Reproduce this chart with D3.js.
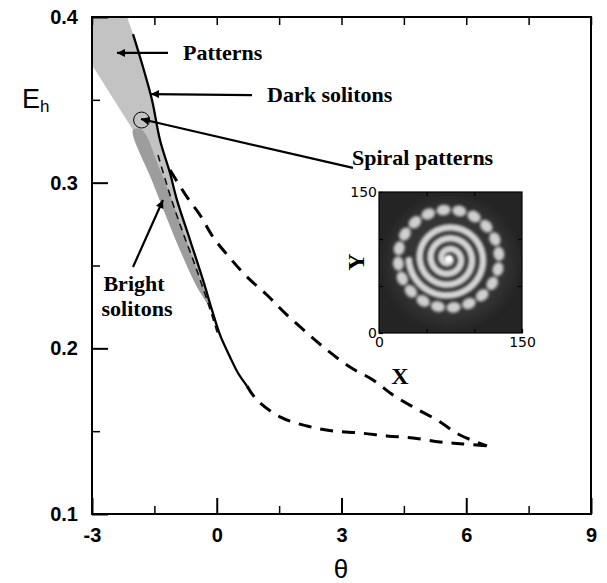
<!DOCTYPE html>
<html><head><meta charset="utf-8">
<script src="https://cdn.jsdelivr.net/npm/d3@7"></script>
<style>body{margin:0;background:#fff}</style>
</head><body>
<svg id="chart" width="607" height="583"></svg>
<script>
// ---------- data ----------
const xTicks = [-3, 0, 3, 6, 9];
const xMinorTicks = [-1.5, 1.5, 4.5, 7.5];
const yTicks = [0.1, 0.2, 0.3, 0.4];
const yMinorTicks = [0.15, 0.25, 0.35];

// light gray "Patterns" region
const patternsTheta = [-3, -2.158, -2.014, -1.774, -1.557, -1.365, -1.124, -0.956, -0.643, -0.331, -0.114, 0.006, -0.090, -0.475, -0.884, -1.533, -2.014, -3];
const patternsE     = [0.4, 0.4, 0.3897, 0.3698, 0.3499, 0.3258, 0.3058, 0.2895, 0.2654, 0.2413, 0.2231, 0.2159, 0.2213, 0.2370, 0.2594, 0.2998, 0.3318, 0.3710];
// darker gray "Bright solitons" region
const brightTheta = [-2.014, -1.80, -1.36, -0.95, -0.60, -0.26, 0.006, -0.090, -0.475, -0.884, -1.533];
const brightE     = [0.3318, 0.3318, 0.3076, 0.2805, 0.2563, 0.2322, 0.2141, 0.2213, 0.2370, 0.2594, 0.2998];
// solid "Dark solitons" boundary
const darkTheta = [-2.014, -1.774, -1.557, -1.365, -1.124, -0.956, -0.643, -0.331, -0.114, 0.078, 0.319, 0.511, 0.727];
const darkE     = [0.3897, 0.3698, 0.3499, 0.3258, 0.3058, 0.2895, 0.2654, 0.2413, 0.2231, 0.2081, 0.1948, 0.1851, 0.1773];
// lower dashed curve
const lowerTheta = [0.727, 0.968, 1.521, 2.170, 2.796, 3.445, 4.094, 4.720, 5.369, 5.922, 6.499];
const lowerE     = [0.1773, 0.1688, 0.1586, 0.1531, 0.1501, 0.1489, 0.1471, 0.1459, 0.1435, 0.1423, 0.1411];
// upper dashed curve
const upperTheta = [-1.124, -0.715, -0.403, -0.090, 0.319, 0.727, 1.208, 1.641, 2.170, 2.651, 3.204, 3.758, 4.239, 4.720, 5.297, 5.850, 6.499];
const upperE     = [0.3076, 0.2913, 0.2805, 0.2672, 0.2545, 0.2431, 0.2322, 0.2213, 0.2093, 0.1990, 0.1887, 0.1809, 0.1718, 0.1646, 0.1567, 0.1477, 0.1411];
// inner dashed curve inside the band
const innerTheta = [-1.413, -1.124, -0.836, -0.523, -0.234, 0.030];
const innerE     = [0.3167, 0.2926, 0.2714, 0.2503, 0.2292, 0.2081];
// spiral marker (circle)
const markerTheta = [-1.807];
const markerE = [0.3378];

// inset
const insetTicks = [0, 150];
const insetMinor = [50, 100];
const spiralCenter = [73, 79];
const spiralTurns = [3.5];
const blobCount = [20];

// ---------- layout ----------
const svg = d3.select("#chart");
const L = 92, R = 591, T = 17, B = 514;
const x = d3.scaleLinear().domain([-3, 9]).range([L, R]);
const y = d3.scaleLinear().domain([0.1, 0.4]).range([B, T]);

const defs = svg.append("defs");
defs.append("marker").attr("id","arr").attr("viewBox","0 0 10 10")
  .attr("refX",10).attr("refY",5).attr("markerWidth",11).attr("markerHeight",8)
  .attr("markerUnits","userSpaceOnUse").attr("orient","auto")
  .append("path").attr("d","M0,0L10,5L0,10z").attr("fill","#000");
const blur = defs.append("filter").attr("id","blur").attr("x","-20%").attr("y","-20%").attr("width","140%").attr("height","140%");
blur.append("feGaussianBlur").attr("stdDeviation",1.2);
const rg = defs.append("radialGradient").attr("id","bg");
rg.append("stop").attr("offset","0%").attr("stop-color","#3a3a3a");
rg.append("stop").attr("offset","75%").attr("stop-color","#333");
rg.append("stop").attr("offset","100%").attr("stop-color","#242424");

const clip = defs.append("clipPath").attr("id","plotclip");
clip.append("rect").attr("x",L).attr("y",T).attr("width",R-L).attr("height",B-T);

const line = d3.line().x(d => x(d[0])).y(d => y(d[1]));
const zip = (a,b) => a.map((v,i)=>[v,b[i]]);

const g = svg.append("g").attr("clip-path","url(#plotclip)");
g.append("path").attr("d", line(zip(patternsTheta, patternsE)) + "Z").attr("fill","#c3c3c3");
g.append("path").attr("d", d3.line().curve(d3.curveCatmullRomClosed).x(d=>x(d[0])).y(d=>y(d[1]))(zip(brightTheta, brightE))).attr("fill","#9d9d9d");

const smooth = d3.line().curve(d3.curveCatmullRom).x(d => x(d[0])).y(d => y(d[1]));
g.append("path").attr("d", smooth(zip(innerTheta, innerE))).attr("fill","none")
  .attr("stroke","#111").attr("stroke-width",1.6).attr("stroke-dasharray","7,5");
g.append("path").attr("d", smooth(zip(darkTheta, darkE))).attr("fill","none")
  .attr("stroke","#000").attr("stroke-width",2.3);
g.append("path").attr("d", smooth(zip(lowerTheta, lowerE))).attr("fill","none")
  .attr("stroke","#000").attr("stroke-width",3).attr("stroke-dasharray","13,9");
g.append("path").attr("d", smooth(zip(upperTheta, upperE))).attr("fill","none")
  .attr("stroke","#000").attr("stroke-width",3).attr("stroke-dasharray","13,9");

g.selectAll("circle.mk").data(zip(markerTheta, markerE)).join("circle")
  .attr("class","mk").attr("cx",d=>x(d[0])).attr("cy",d=>y(d[1])).attr("r",8)
  .attr("fill","none").attr("stroke","#000").attr("stroke-width",1);

// ---------- axes ----------
const tickFont = "bold 20px 'Liberation Sans', Arial, sans-serif";
const yAxis = d3.axisLeft(y).tickValues(yTicks).tickFormat(d3.format(".1f")).tickSize(-16).tickPadding(14);
const yA = svg.append("g").attr("transform",`translate(${L},0)`).call(yAxis);
yA.select(".domain").remove();
yA.selectAll("text").style("font", tickFont).attr("fill","#000");
yA.selectAll("line").attr("stroke","#000").attr("stroke-width",2);
const yM = svg.append("g").attr("transform",`translate(${L},0)`).call(d3.axisLeft(y).tickValues(yMinorTicks).tickFormat("").tickSize(-8));
yM.select(".domain").remove(); yM.selectAll("line").attr("stroke","#000").attr("stroke-width",1.5);

const xAxis = d3.axisBottom(x).tickValues(xTicks).tickFormat(d3.format("d")).tickSize(-16).tickPadding(14);
const xA = svg.append("g").attr("transform",`translate(0,${B})`).call(xAxis);
xA.select(".domain").remove();
xA.selectAll("text").style("font", tickFont).attr("fill","#000").text(d => d < 0 ? "-" + Math.abs(d) : d);
xA.selectAll("line").attr("stroke","#000").attr("stroke-width",2);
const xM = svg.append("g").attr("transform",`translate(0,${B})`).call(d3.axisBottom(x).tickValues(xMinorTicks).tickFormat("").tickSize(-8));
xM.select(".domain").remove(); xM.selectAll("line").attr("stroke","#000").attr("stroke-width",1.5);
const xT = svg.append("g").attr("transform",`translate(0,${T})`).call(d3.axisTop(x).tickValues(xTicks.concat(xMinorTicks)).tickFormat("").tickSize(-8));
xT.select(".domain").remove(); xT.selectAll("line").attr("stroke","#000").attr("stroke-width",1.5);

svg.append("rect").attr("x",L).attr("y",T).attr("width",R-L).attr("height",B-T)
  .attr("fill","none").attr("stroke","#000").attr("stroke-width",2);

// axis titles
svg.append("text").attr("x",341).attr("y",578).attr("text-anchor","middle")
  .style("font","26px 'Liberation Sans', Arial, sans-serif").text("θ");
const eh = svg.append("text").attr("x",22).attr("y",108).style("font","27px 'Liberation Sans', Arial, sans-serif");
eh.append("tspan").text("E");
eh.append("tspan").attr("dy",4).style("font-size","17px").text("h");

// ---------- annotations ----------
const annFont = "bold 22px 'Liberation Serif', 'Times New Roman', serif";
const arrows = [
  {from:[-1.172,0.3783], to:[-2.399,0.3783]},
  {from:[0.848,0.3529], to:[-1.581,0.3535]},
  {from:[3.277,0.3089], to:[-1.822,0.3384]},
  {from:[-2.014,0.2491], to:[-1.293,0.2895]}
];
svg.selectAll("line.arrow").data(arrows).join("line").attr("class","arrow")
  .attr("x1",d=>x(d.from[0])).attr("y1",d=>y(d.from[1]))
  .attr("x2",d=>x(d.to[0])).attr("y2",d=>y(d.to[1]))
  .attr("stroke","#000").attr("stroke-width",2.2).attr("marker-end","url(#arr)");
const labels = [
  {t:"Patterns", x:183, y:60, a:"start"},
  {t:"Dark solitons", x:267, y:102, a:"start"},
  {t:"Spiral patterns", x:352, y:165, a:"start"},
  {t:"Bright", x:134, y:291, a:"middle"},
  {t:"solitons", x:137, y:316, a:"middle"}
];
svg.selectAll("text.ann").data(labels).join("text").attr("class","ann")
  .attr("x",d=>d.x).attr("y",d=>d.y).attr("text-anchor",d=>d.a)
  .style("font",annFont).text(d=>d.t);

// ---------- inset ----------
const ix = d3.scaleLinear().domain([0,150]).range([379,522]);
const iy = d3.scaleLinear().domain([0,150]).range([333,192]);
const ins = svg.append("g");
ins.append("rect").attr("x",ix(0)).attr("y",iy(150)).attr("width",ix(150)-ix(0)).attr("height",iy(0)-iy(150))
  .attr("fill","url(#bg)");
const sx = spiralCenter[0], sy = spiralCenter[1];
// spiral arm
const nT = spiralTurns[0];
const spiralPts = d3.range(0, nT*2*Math.PI, 0.05).map(a => {
  const r = 1.5 + 11.5*a/(2*Math.PI);
  return [ix(sx + r*Math.cos(-a)), iy(sy + r*Math.sin(-a))];
});
const sg = ins.append("g").attr("filter","url(#blur)");
sg.append("path").attr("d", d3.line()(spiralPts)).attr("fill","none").attr("stroke","#8e8e8e").attr("stroke-width",8).attr("stroke-linecap","round");
sg.append("path").attr("d", d3.line()(spiralPts)).attr("fill","none").attr("stroke","#d4d4d4").attr("stroke-width",4.5).attr("stroke-linecap","round");
sg.append("circle").attr("cx",ix(sx)).attr("cy",iy(sy)).attr("r",3.5).attr("fill","#fff");
// outer blobs
const nb = blobCount[0];
const blobs = d3.range(nb).map(i => (i/nb)*2*Math.PI + 0.1);
sg.selectAll("ellipse").data(blobs).join("ellipse")
  .attr("cx",a=>ix(sx + 53*Math.cos(a))).attr("cy",a=>iy(sy + 52*Math.sin(a)))
  .attr("rx",6.8).attr("ry",5.2)
  .attr("transform",a=>`rotate(${-a*180/Math.PI+90},${ix(sx + 53*Math.cos(a))},${iy(sy + 52*Math.sin(a))})`)
  .attr("fill","#cfcfcf").attr("stroke","#858585").attr("stroke-width",2);
ins.append("rect").attr("x",ix(0)).attr("y",iy(150)).attr("width",ix(150)-ix(0)).attr("height",iy(0)-iy(150))
  .attr("fill","none").attr("stroke","#000").attr("stroke-width",1.2);
// inset ticks
const insFont = "14px 'DejaVu Sans', Verdana, sans-serif";
const iB = ins.append("g").attr("transform",`translate(0,${iy(0)})`).call(d3.axisBottom(ix).tickValues(insetTicks.concat(insetMinor)).tickSize(-4).tickPadding(4).tickFormat(d=>insetTicks.includes(d)?d:""));
const iL = ins.append("g").attr("transform",`translate(${ix(0)},0)`).call(d3.axisLeft(iy).tickValues(insetTicks.concat(insetMinor)).tickSize(-4).tickPadding(2).tickFormat(d=>insetTicks.includes(d)?d:""));
const iT = ins.append("g").attr("transform",`translate(0,${iy(150)})`).call(d3.axisTop(ix).tickValues(insetMinor).tickSize(-4).tickFormat(""));
const iR = ins.append("g").attr("transform",`translate(${ix(150)},0)`).call(d3.axisRight(iy).tickValues(insetMinor).tickSize(-4).tickFormat(""));
[iB,iL,iT,iR].forEach(a=>{a.select(".domain").remove(); a.selectAll("line").attr("stroke","#000").attr("stroke-width",1.2); a.selectAll("text").style("font",insFont).attr("fill","#000");});
ins.append("text").attr("x",400).attr("y",384).attr("text-anchor","middle").style("font","bold 24px 'Liberation Serif', serif").text("X");
ins.append("text").attr("transform","translate(364,262) rotate(-90)").attr("text-anchor","middle").style("font","bold 24px 'Liberation Serif', serif").text("Y");
</script>
</body></html>
